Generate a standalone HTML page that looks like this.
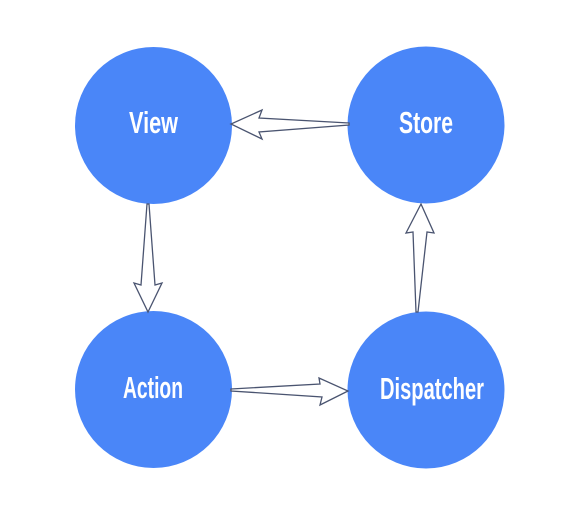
<!DOCTYPE html>
<html><head><style>
html,body{margin:0;padding:0;background:#fff;width:578px;height:515px;overflow:hidden}
svg{display:block}
text{font-family:"Liberation Sans Narrow","Liberation Sans",sans-serif;fill:#fff;font-size:31px;font-weight:bold}
</style></head><body>
<svg width="578" height="515" viewBox="0 0 578 515">
<g fill="#4a86f8">
<circle cx="153.5" cy="125.5" r="78.5"/>
<circle cx="426" cy="125" r="78.5"/>
<circle cx="153.5" cy="389.5" r="78.5"/>
<circle cx="426" cy="390" r="78.5"/>
</g>
<g fill="#fff" stroke="#4a5470" stroke-width="1.3" stroke-linejoin="miter">
<polygon points="349,123 259,118 262,110 231,124 262,139 259,132 349,125"/>
<polygon points="147,204 141,285 134,283 148,312 162,283 155,285 149,204"/>
<polygon points="231,389 320,384 319,378 348,391 320,405 322,397 231,391"/>
<polygon points="416,312 413,232 406,233 421,204 434,233 427,232 418,312"/>
</g>
<text x="129" y="133" textLength="49" lengthAdjust="spacingAndGlyphs">View</text>
<text x="399" y="133" textLength="54" lengthAdjust="spacingAndGlyphs">Store</text>
<text x="123" y="398" textLength="60" lengthAdjust="spacingAndGlyphs">Action</text>
<text x="380" y="399" textLength="104" lengthAdjust="spacingAndGlyphs">Dispatcher</text>
</svg>
</body></html>
